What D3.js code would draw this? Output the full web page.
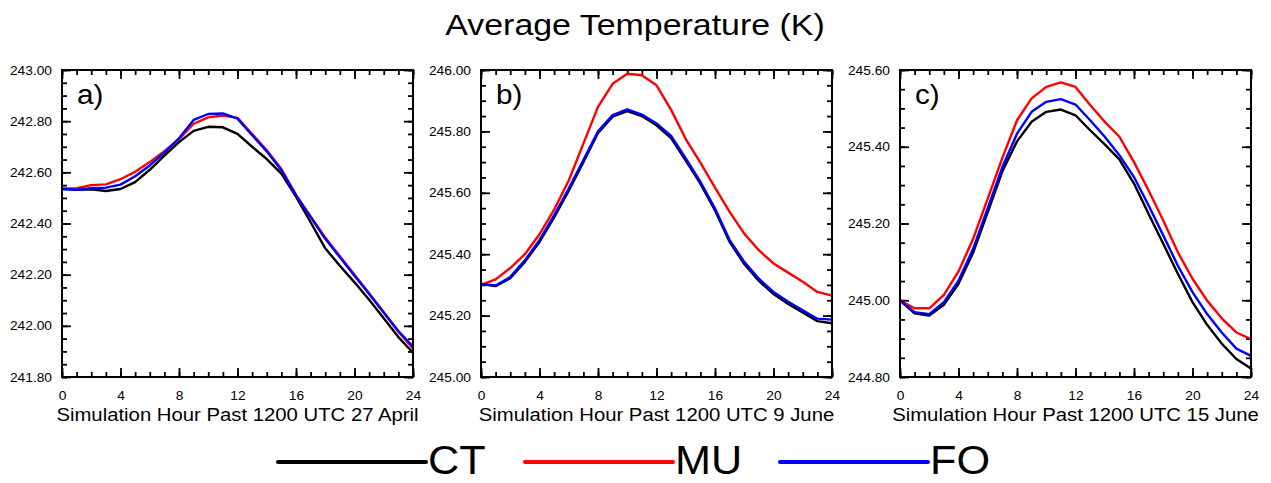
<!DOCTYPE html>
<html>
<head>
<meta charset="utf-8">
<script src="https://cdn.jsdelivr.net/npm/d3@7"></script>
<style>
body { margin: 0; background: #fff; }
text { font-family: "Liberation Sans", Arial, Helvetica, sans-serif; fill: #000; }
</style>
</head>
<body>
<div class="chart"></div>
<script>
// Datos: temperatura media (K) por hora de simulacion
var hours = [0, 1, 2, 3, 4, 5, 6, 7, 8, 9, 10, 11, 12, 13, 14, 15, 16, 17, 18, 19, 20, 21, 22, 23, 24];

var ctA = [242.535, 242.532, 242.534, 242.527, 242.535, 242.562, 242.610, 242.665, 242.718, 242.762, 242.778, 242.776, 242.750,
           242.700, 242.652, 242.595, 242.505, 242.405, 242.303, 242.235, 242.170, 242.102, 242.030, 241.956, 241.895];
var muA = [242.536, 242.538, 242.550, 242.553, 242.573, 242.602, 242.640, 242.683, 242.730, 242.790, 242.815, 242.822, 242.813,
           242.750, 242.686, 242.613, 242.512, 242.428, 242.345, 242.272, 242.200, 242.127, 242.052, 241.977, 241.912];
var foA = [242.536, 242.532, 242.538, 242.540, 242.552, 242.585, 242.627, 242.677, 242.733, 242.805, 242.828, 242.830, 242.810,
           242.745, 242.682, 242.608, 242.510, 242.425, 242.340, 242.268, 242.196, 242.124, 242.052, 241.980, 241.919];

var ctB = [245.303, 245.296, 245.322, 245.375, 245.440, 245.520, 245.607, 245.700, 245.795, 245.848, 245.866, 245.850, 245.820,
           245.778, 245.705, 245.630, 245.543, 245.440, 245.368, 245.313, 245.270, 245.238, 245.210, 245.182, 245.175];
var muB = [245.300, 245.318, 245.355, 245.400, 245.465, 245.545, 245.640, 245.760, 245.880, 245.955, 245.988, 245.983, 245.950,
           245.870, 245.775, 245.698, 245.617, 245.538, 245.467, 245.413, 245.370, 245.340, 245.310, 245.277, 245.265];
var foB = [245.303, 245.298, 245.326, 245.380, 245.446, 245.527, 245.614, 245.707, 245.800, 245.853, 245.872, 245.855, 245.826,
           245.785, 245.712, 245.636, 245.549, 245.446, 245.375, 245.320, 245.277, 245.245, 245.217, 245.190, 245.187];

var ctC = [245.000, 244.966, 244.960, 244.988, 245.043, 245.124, 245.230, 245.336, 245.414, 245.465, 245.491, 245.497, 245.482,
           245.443, 245.406, 245.367, 245.304, 245.225, 245.147, 245.069, 244.995, 244.936, 244.887, 244.847, 244.822];
var muC = [244.999, 244.979, 244.979, 245.014, 245.075, 245.160, 245.265, 245.371, 245.469, 245.526, 245.556, 245.568, 245.556,
           245.509, 245.465, 245.426, 245.360, 245.286, 245.208, 245.125, 245.056, 244.999, 244.953, 244.916, 244.899];
var foC = [244.999, 244.969, 244.964, 244.995, 245.051, 245.134, 245.240, 245.347, 245.434, 245.491, 245.517, 245.524, 245.510,
           245.469, 245.426, 245.378, 245.321, 245.247, 245.169, 245.090, 245.021, 244.964, 244.916, 244.874, 244.855];

var seriesNames = ["CT", "MU", "FO"];
var panelLabels = ["a)", "b)", "c)"];
var xTitles = ["Simulation Hour Past 1200 UTC 27 April",
               "Simulation Hour Past 1200 UTC 9 June",
               "Simulation Hour Past 1200 UTC 15 June"];
var xTicks = [0, 4, 8, 12, 16, 20, 24];
var yTicksA = [241.8, 242.0, 242.2, 242.4, 242.6, 242.8, 243.0];
var yTicksB = [245.0, 245.2, 245.4, 245.6, 245.8, 246.0];
var yTicksC = [244.8, 245.0, 245.2, 245.4, 245.6];

var colors = ["#000000", "#ff0000", "#0000ff"];
var panels = [
  {series: [ctA, muA, foA], yTicks: yTicksA},
  {series: [ctB, muB, foB], yTicks: yTicksB},
  {series: [ctC, muC, foC], yTicks: yTicksC}
];

var W = 1271, H = 483;
var panelLeft = [62, 481, 900];
var pw = 351, ph = 307, ptop = 70;

// el texto original esta algo estirado en horizontal
function stretch(sel, f) {
  sel.each(function() {
    var len = this.getComputedTextLength();
    d3.select(this).attr("textLength", len * f).attr("lengthAdjust", "spacingAndGlyphs");
  });
}

var svg = d3.select(".chart")
    .append("svg")
    .attr("width", W)
    .attr("height", H);

svg.append("rect").attr("width", W).attr("height", H).attr("fill", "#fff");

svg.append("text")
    .attr("x", 635)
    .attr("y", 35)
    .attr("text-anchor", "middle")
    .style("font-size", "30px")
    .text("Average Temperature (K)")
    .call(stretch, 1.13);

panels.forEach(function(p, i) {
  var yt = p.yTicks;
  var x = d3.scaleLinear().domain([0, 24]).range([0, pw]);
  var y = d3.scaleLinear().domain([yt[0], yt[yt.length - 1]]).range([ph, 0]);

  var g = svg.append("g")
      .attr("transform", "translate(" + panelLeft[i] + "," + ptop + ")");

  var minorX = hours;
  var minorY = d3.range(0, Math.round((yt[yt.length - 1] - yt[0]) / 0.05) + 1)
      .map(function(j) { return yt[0] + j * 0.05; });

  // ejes: ticks hacia dentro en los cuatro lados
  var axes = [
    [d3.axisBottom(x).tickValues(xTicks).tickSize(-9).tickPadding(14).tickFormat(d3.format("d")), "translate(0," + ph + ")", true],
    [d3.axisBottom(x).tickValues(minorX).tickSize(-5).tickFormat(""), "translate(0," + ph + ")", false],
    [d3.axisTop(x).tickValues(xTicks).tickSize(-9).tickFormat(""), null, false],
    [d3.axisTop(x).tickValues(minorX).tickSize(-5).tickFormat(""), null, false],
    [d3.axisLeft(y).tickValues(yt).tickSize(-9).tickPadding(10).tickFormat(d3.format(".2f")), null, true],
    [d3.axisLeft(y).tickValues(minorY).tickSize(-5).tickFormat(""), null, false],
    [d3.axisRight(y).tickValues(yt).tickSize(-9).tickFormat(""), "translate(" + pw + ",0)", false],
    [d3.axisRight(y).tickValues(minorY).tickSize(-5).tickFormat(""), "translate(" + pw + ",0)", false]
  ];
  axes.forEach(function(a) {
    var ag = g.append("g").attr("class", "axis");
    if (a[1]) ag.attr("transform", a[1]);
    ag.call(a[0]);
    ag.select(".domain").remove();
    ag.selectAll("line").attr("stroke", "#000").attr("stroke-width", 1.8);
    if (a[2]) {
      ag.selectAll("text")
        .style("font-size", "12.5px")
        .attr("font-family", null)
        .call(stretch, 1.1);
    }
  });

  var line = d3.line()
      .x(function(d, j) { return x(hours[j]); })
      .y(function(d) { return y(d); });

  p.series.forEach(function(s, si) {
    g.append("path")
      .datum(s)
      .attr("fill", "none")
      .attr("stroke", colors[si])
      .attr("stroke-width", 2.4)
      .attr("stroke-linejoin", "round")
      .attr("d", line);
  });

  g.append("rect")
      .attr("width", pw)
      .attr("height", ph)
      .attr("fill", "none")
      .attr("stroke", "#000")
      .attr("stroke-width", 2);

  g.append("text")
      .attr("x", 15)
      .attr("y", 34)
      .style("font-size", "27px")
      .text(panelLabels[i])
      .call(stretch, 1.1);

  g.append("text")
      .attr("x", pw / 2)
      .attr("y", 351)
      .attr("text-anchor", "middle")
      .style("font-size", "17.5px")
      .text(xTitles[i])
      .call(stretch, 1.16);
});

// leyenda
var legendX = [278, 525, 780];
var legend = svg.append("g");
seriesNames.forEach(function(name, i) {
  legend.append("line")
    .attr("x1", legendX[i]).attr("x2", legendX[i] + 148)
    .attr("y1", 462).attr("y2", 462)
    .attr("stroke", colors[i])
    .attr("stroke-width", 4)
    .attr("stroke-linecap", "round");
  legend.append("text")
    .attr("x", legendX[i] + 150)
    .attr("y", 474)
    .style("font-size", "40px")
    .text(name)
    .call(stretch, 1.08);
});
</script>
</body>
</html>
